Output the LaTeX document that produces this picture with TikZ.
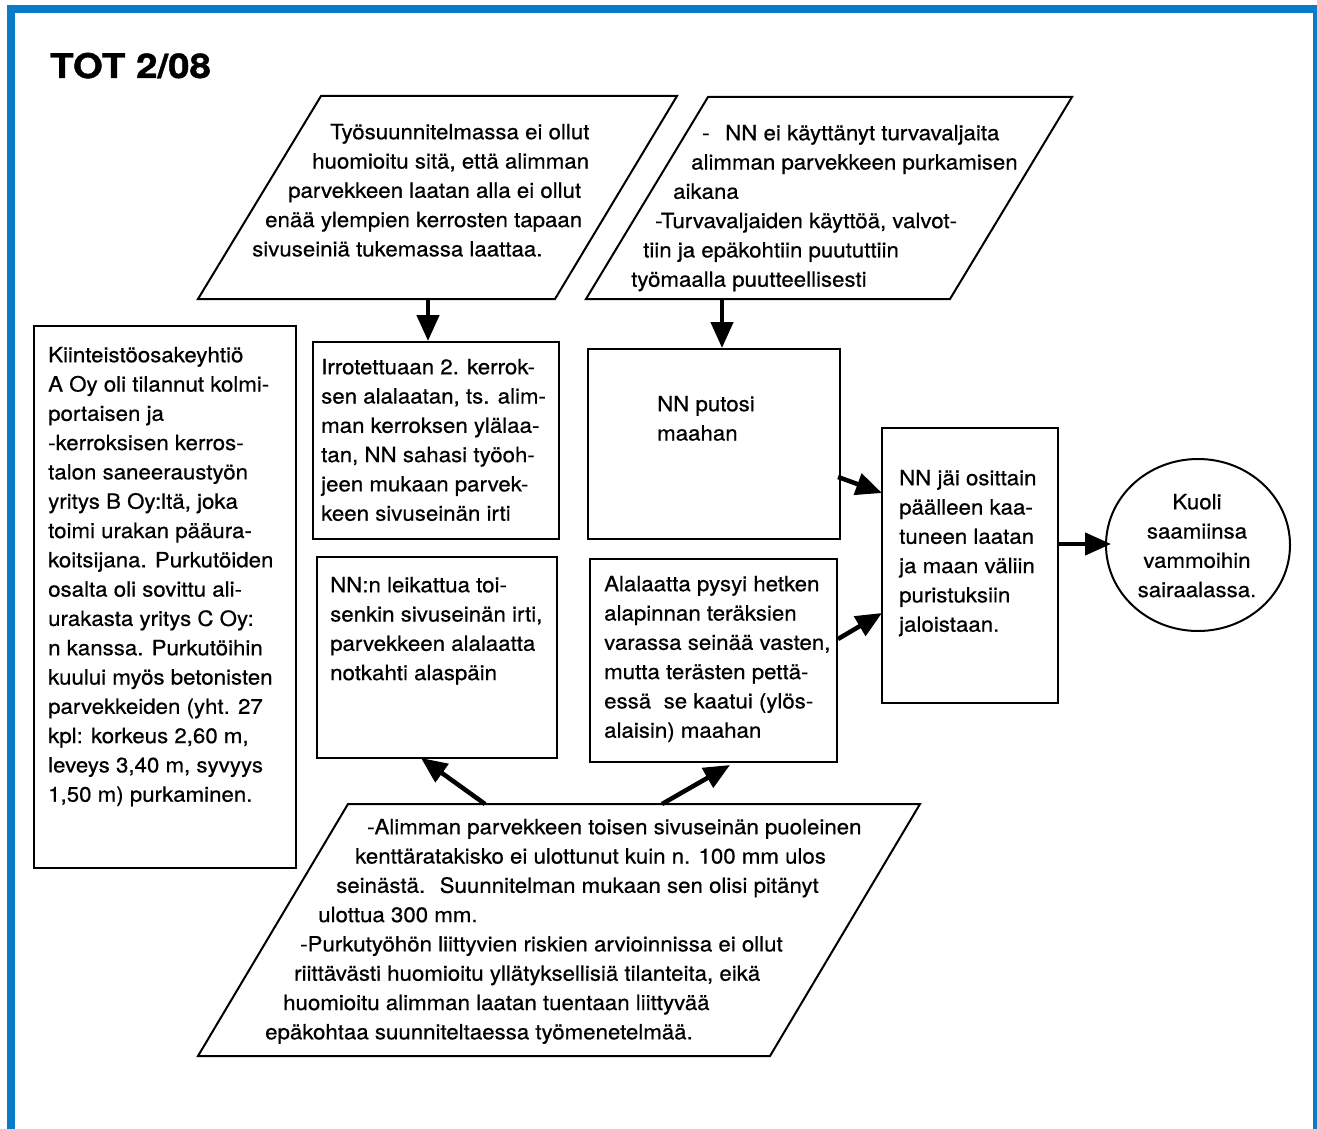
\documentclass[tikz,border=0pt]{standalone}
\usepackage{fontspec}
\setmainfont{TeX Gyre Heros}[FakeStretch=1.06,FakeBold=0.6]
\newfontfamily\titlefont{TeX Gyre Heros}[FakeStretch=1.13,FakeBold=1.2]
\usetikzlibrary{arrows.meta,shapes.geometric}
\definecolor{framebl}{RGB}{8,124,198}
\begin{document}
\begin{tikzpicture}[x=1pt,y=-1pt,
  shp/.style={draw=black,line width=2pt,line join=miter},
  box/.style={draw=black,line width=2pt,anchor=north west,inner sep=0pt},
  txt/.style={font=\fontsize{21}{29.3}\selectfont,align=left,inner sep=0pt,anchor=north west},
  arr/.style={line width=4.5pt,-{Triangle[length=26pt,width=22pt]}}]
\useasboundingbox (0,0) rectangle (1317,1129);
\fill[white] (0,0) rectangle (1317,1129);
% frame
\fill[framebl] (7,5) rectangle (15,1129);
\fill[framebl] (7,5) rectangle (1317,13);
\fill[framebl] (1313,5) rectangle (1317,1129);
% title
\node[font=\titlefont\fontsize{34}{40}\selectfont\bfseries,anchor=base west,inner sep=0pt] (title) at (50,78) {TOT 2/08};
% parallelograms
\draw[shp] (321,96) coordinate (p1a) -- (677,96) coordinate (p1b) -- (555,299) coordinate (p1c) -- (198,299) coordinate (p1d) -- cycle;
\draw[shp] (708,97) coordinate (p2a) -- (1072,97) coordinate (p2b) -- (950,299) coordinate (p2c) -- (586,299) coordinate (p2d) -- cycle;
\draw[shp] (348,804) coordinate (p3a) -- (920,804) coordinate (p3b) -- (770,1056) coordinate (p3c) -- (198,1056) coordinate (p3d) -- cycle;
\node[txt] (p1) at (252,118.5) {\strut\hspace*{78pt}Työsuunnitelmassa ei ollut\\
\hspace*{60pt}huomioitu sitä, että alimman\\
\hspace*{36pt}parvekkeen laatan alla ei ollut\\
\hspace*{13pt}enää ylempien kerrosten tapaan\\
sivuseiniä tukemassa laattaa.};
\node[txt] (p2) at (631,119.5) {\strut\hspace*{71pt}-\hspace{0.45em} NN ei käyttänyt turvavaljaita\\
\hspace*{60pt}alimman parvekkeen purkamisen\\
\hspace*{42pt}aikana\\
\hspace*{24pt}-Turvavaljaiden käyttöä, valvot-\\
\hspace*{12pt}tiin ja epäkohtiin puututtiin\\
työmaalla puutteellisesti};
\node[txt] (p3) at (265,813.5) {\strut\hspace*{102pt}-Alimman parvekkeen toisen sivuseinän puoleinen\\
\hspace*{90pt}kenttäratakisko ei ulottunut kuin n. 100 mm ulos\\
\hspace*{71pt}seinästä.\hspace{0.3em} Suunnitelman mukaan sen olisi pitänyt\\
\hspace*{53pt}ulottua 300 mm.\\
\hspace*{35pt}-Purkutyöhön liittyvien riskien arvioinnissa ei ollut\\
\hspace*{29pt}riittävästi huomioitu yllätyksellisiä tilanteita, eikä\\
\hspace*{18pt}huomioitu alimman laatan tuentaan liittyvää\\
epäkohtaa suunniteltaessa työmenetelmää.};
% boxes
\node[box,minimum width=262pt,minimum height=542pt] (lb) at (33,325) {};
\node[txt] (lbt) at (48,341.5) {\strut Kiinteistöosakeyhtiö\\
A Oy oli tilannut kolmi-\\
portaisen ja\\
-kerroksisen kerros-\\
talon saneeraustyön\\
yritys B Oy:ltä, joka\\
toimi urakan pääura-\\
koitsijana. Purkutöiden\\
osalta oli sovittu ali-\\
urakasta yritys C Oy:\\
n kanssa. Purkutöihin\\
kuului myös betonisten\\
parvekkeiden (yht. 27\\
kpl: korkeus 2,60 m,\\
leveys 3,40 m, syvyys\\
1,50 m) purkaminen.};
\node[box,minimum width=246pt,minimum height=197pt] (b1) at (312,341) {};
\node[txt] (b1t) at (321,353.5) {\strut Irrotettuaan 2. kerrok-\\
sen alalaatan, ts. alim-\\
man kerroksen ylälaa-\\
tan, NN sahasi työoh-\\
jeen mukaan parvek-\\
keen sivuseinän irti};
\node[box,minimum width=252pt,minimum height=190pt] (b2) at (587,348) {};
\node[txt] (b2t) at (657,390.5) {\strut NN putosi\\ maahan};
\node[box,minimum width=240pt,minimum height=201pt] (b3) at (316,556) {};
\node[txt] (b3t) at (330,571.5) {\strut NN:n leikattua toi-\\
senkin sivuseinän irti,\\
parvekkeen alalaatta\\
notkahti alaspäin};
\node[box,minimum width=247pt,minimum height=203pt] (b4) at (589,558) {};
\node[txt] (b4t) at (604,570.5) {\strut Alalaatta pysyi hetken\\
alapinnan teräksien\\
varassa seinää vasten,\\
mutta terästen pettä-\\
essä\hspace{0.3em} se kaatui (ylös-\\
alaisin) maahan};
\node[box,minimum width=176pt,minimum height=275pt] (b5) at (881,427) {};
\node[txt] (b5t) at (899,464.5) {\strut NN jäi osittain\\
päälleen kaa-\\
tuneen laatan\\
ja maan väliin\\
puristuksiin\\
jaloistaan.};
\node[ellipse,draw=black,line width=2pt,minimum width=184pt,minimum height=172pt,inner sep=0pt] (c) at (1198,545) {};
\node[txt,align=center,anchor=north] (ct) at (1197,488.5) {\strut Kuoli\\ saamiinsa\\ vammoihin\\ sairaalassa.};
% connectors
\coordinate (a1) at (428,299);
\coordinate (a2) at (722,299);
\draw[arr] (a1) -- (a1 |- b1.north);
\draw[arr] (a2) -- (a2 |- b2.north);
\coordinate (a3) at (838,477);
\coordinate (a3e) at (882,493);
\draw[arr] (a3) -- (a3e);
\coordinate (a4) at (838,639);
\coordinate (a4e) at (882,613);
\draw[arr] (a4) -- (a4e);
\coordinate (a5) at (1057,544);
\draw[arr] (a5) -- ([xshift=6pt]c.west |- a5);
\coordinate (a6) at (485,804);
\coordinate (a6e) at (421,758);
\draw[arr] (a6) -- (a6e);
\coordinate (a7) at (662,804);
\coordinate (a7e) at (730,765);
\draw[arr] (a7) -- (a7e);
\end{tikzpicture}
\end{document}
